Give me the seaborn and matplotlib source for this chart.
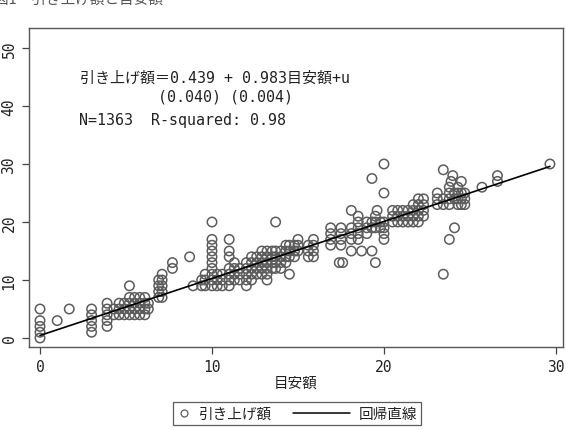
import numpy as np
import pandas as pd
import matplotlib
matplotlib.use("Agg")
import matplotlib.pyplot as plt
import seaborn as sns
from matplotlib.lines import Line2D
from matplotlib.legend_handler import HandlerLine2D

# ---------------- data ----------------
# low range of 目安額 (x) and 引き上げ額 (y)
x_low = [0, 0, 0, 0, 0, 1.0, 1.7,
         3, 3, 3, 3, 3, 3.9, 3.9, 3.9, 3.9, 3.9,
         4.3, 4.3, 4.6, 4.6, 4.6, 4.9, 4.9, 4.9,
         5.2, 5.2, 5.2, 5.2, 5.2, 5.5, 5.5, 5.5, 5.5,
         5.8, 5.8, 5.8, 5.8, 6.1, 6.1, 6.1, 6.1, 6.3, 6.3,
         6.9, 6.9, 6.9, 6.9, 7.1, 7.1, 7.1, 7.1, 7.1,
         7.7, 7.7, 8.7, 8.9]
y_low = [0, 1, 2, 3, 5, 3, 5,
         1, 2, 3, 4, 5, 2, 3, 4, 5, 6,
         4, 5, 4, 5, 6, 4, 5, 6,
         4, 5, 6, 7, 9, 4, 5, 6, 7,
         4, 5, 6, 7, 4, 5, 6, 7, 5, 6,
         7, 8, 9, 10, 7, 8, 9, 10, 11,
         12, 13, 14, 9]

# middle range
x_mid = [9.4, 9.4, 9.6, 9.6, 9.6,
         10, 10, 10, 10, 10, 10, 10, 10, 10, 10,
         10.3, 10.3, 10.3, 10.6, 10.6, 10.6,
         11.0, 11.0, 11.0, 11.0, 11.0, 11.0, 11.0,
         11.3, 11.3, 11.3, 11.3, 11.6, 11.6, 11.6,
         12.0, 12.0, 12.0, 12.0, 12.0, 12.3, 12.3, 12.3, 12.3, 12.3,
         12.6, 12.6, 12.6, 12.6, 12.9, 12.9, 12.9, 12.9, 12.9,
         13.2, 13.2, 13.2, 13.2, 13.2, 13.2, 13.5, 13.5, 13.5, 13.5,
         13.7, 13.7, 13.7, 13.7, 13.7, 14.0, 14.0, 14.0, 14.0,
         14.3, 14.3, 14.3, 14.3, 14.5, 14.5, 14.5, 14.5,
         14.8, 14.8, 14.8, 15.0, 15.0, 15.0,
         15.6, 15.6, 15.6, 15.9, 15.9, 15.9, 15.9]
y_mid = [9, 10, 9, 10, 11,
         9, 10, 11, 12, 13, 14, 15, 16, 17, 20,
         9, 10, 11, 9, 10, 11,
         9, 10, 11, 12, 14, 15, 17,
         10, 11, 12, 13, 10, 11, 12,
         9, 10, 11, 12, 13, 10, 11, 12, 13, 14,
         11, 12, 13, 14, 11, 12, 13, 14, 15,
         10, 11, 12, 13, 14, 15, 12, 13, 14, 15,
         12, 13, 14, 15, 20, 12, 13, 14, 15,
         13, 14, 15, 16, 11, 14, 15, 16,
         14, 15, 16, 15, 16, 17,
         14, 15, 16, 14, 15, 16, 17]

# high range
x_high = [16.9, 16.9, 16.9, 16.9, 17.4, 17.5, 17.5, 17.5, 17.5, 17.6,
          18.1, 18.1, 18.1, 18.1, 18.1, 18.5, 18.5, 18.5, 18.5, 18.5, 18.7,
          19.0, 19.0, 19.0, 19.3, 19.3, 19.3, 19.3,
          19.5, 19.5, 19.5, 19.5, 19.6, 19.8, 19.8,
          20.0, 20.0, 20.0, 20.0, 20.0, 20.0,
          20.5, 20.5, 20.5, 20.8, 20.8, 20.8, 21.1, 21.1, 21.1,
          21.4, 21.4, 21.4, 21.7, 21.7, 21.7, 21.7,
          22.0, 22.0, 22.0, 22.0, 22.0, 22.3, 22.3, 22.3, 22.3,
          23.1, 23.1, 23.1, 23.45, 23.45, 23.45, 23.45,
          23.8, 23.8, 23.8, 23.8, 23.8, 23.9, 24.0,
          24.1, 24.1, 24.1, 24.3, 24.3, 24.3, 24.3,
          24.5, 24.5, 24.5, 24.5, 24.7, 24.7, 24.7,
          25.7, 26.6, 26.6, 29.65]
y_high = [16, 17, 18, 19, 13, 16, 17, 18, 19, 13,
          15, 17, 18, 19, 22, 17, 18, 19, 20, 21, 15,
          18, 19, 20, 15, 19, 20, 27.5,
          13, 19, 20, 21, 22, 19, 20,
          17, 18, 19, 20, 25, 30,
          20, 21, 22, 20, 21, 22, 20, 21, 22,
          20, 21, 22, 20, 21, 22, 23,
          20, 21, 22, 23, 24, 21, 22, 23, 24,
          23, 24, 25, 11, 23, 24, 29,
          17, 23, 24, 25, 26, 27, 28,
          19, 24, 25, 23, 24, 25, 26,
          23, 24, 25, 27, 23, 24, 25,
          26, 27, 28, 30]

intercept = 0.439
slope = 0.983
equation_text = "引き上げ額＝0.439 + 0.983目安額+u"
se_text = "(0.040) (0.004)"
stats_text = "N=1363  R-squared: 0.98"
x_ticks = [0, 10, 20, 30]
y_ticks = [0, 10, 20, 30, 40, 50]
x_label = "目安額"
scatter_label = "引き上げ額"
line_label = "回帰直線"
title_text = "図1　引き上げ額と目安額"

# ---------------- figure ----------------
sns.set_style("white")
plt.rcParams["font.family"] = ["DejaVu Sans Mono", "Noto Sans CJK JP"]
mixed = ["DejaVu Sans Mono", "Noto Sans CJK JP"]
cjk = ["Noto Sans CJK JP", "DejaVu Sans"]

df = pd.DataFrame({"x": x_low + x_mid + x_high, "y": y_low + y_mid + y_high})
xr = np.array([df["x"].min(), df["x"].max()])
line_df = pd.DataFrame({"x": xr, "y": intercept + slope * xr})

W, H = 566, 431
fig = plt.figure(figsize=(W / 100, H / 100), dpi=100)
ax = fig.add_axes([29 / W, 1 - 348 / H, (563 - 29) / W, (348 - 29) / H])

marker_color = "#5c5c5c"
sns.scatterplot(data=df, x="x", y="y", ax=ax, marker="o", s=46,
                facecolors="none", edgecolor=marker_color, linewidth=1.1,
                legend=False, zorder=2)
sns.lineplot(data=line_df, x="x", y="y", ax=ax, color="black", lw=1.2,
             legend=False, zorder=3)

ax.set_xlim(-0.64, 30.41)
ax.set_ylim(-1.55, 53.45)
ax.set_xticks(x_ticks)
ax.set_yticks(y_ticks)
ax.set_xticklabels([str(t) for t in x_ticks], fontsize=10.5, family=mixed)
ax.set_yticklabels([str(t) for t in y_ticks], fontsize=10.5, family=mixed,
                   rotation=90, va="center")
ax.tick_params(axis="both", direction="out", length=5, width=0.9,
               color="#444444", labelcolor="#222222", pad=4)
ax.tick_params(axis="x", bottom=True)
ax.tick_params(axis="y", left=True)
for sp in ax.spines.values():
    sp.set_visible(True)
    sp.set_color("#555555")
    sp.set_linewidth(1.0)
ax.set_xlabel(x_label, fontsize=10.5, family=cjk, color="#222222", labelpad=1)
ax.set_ylabel("")
ax.grid(False)

# annotation
fs_ann = 10.8
ax.text(2.33, 45.0, equation_text, fontsize=fs_ann, family=mixed,
        va="center", ha="left", color="#222222")
ax.text(6.86, 41.7, se_text, fontsize=fs_ann, family=mixed,
        va="center", ha="left", color="#222222")
ax.text(2.27, 37.6, stats_text, fontsize=fs_ann, family=mixed,
        va="center", ha="left", color="#222222")

# clipped title at very top (only its lower part shows, as in the reference)
fig.text(-6 / W, 1 - 4 / H, title_text, fontsize=10.5, family=cjk,
         va="baseline", ha="left", color="#555555")


# legend
class LongLine(HandlerLine2D):
    def create_artists(self, legend, orig_handle, xdescent, ydescent,
                       width, height, fontsize, trans):
        ext = 3.0 * fontsize
        return super().create_artists(legend, orig_handle, xdescent + ext,
                                      ydescent, width + ext, height,
                                      fontsize, trans)


h_pt = Line2D([], [], ls="", marker="o", ms=5, mfc="none",
              mec=marker_color, mew=0.9)
h_ln = Line2D([], [], color="black", lw=1.1)
leg = fig.legend([h_pt, h_ln], [scatter_label, line_label],
                 loc="upper center", bbox_to_anchor=(297 / W, 1 - 396 / H),
                 ncol=2, frameon=True, fancybox=False, handlelength=0.9,
                 handletextpad=0.6, columnspacing=4.4, borderpad=0.3,
                 prop={"family": cjk, "size": 10.5},
                 handler_map={h_ln: LongLine(numpoints=1)})
leg.get_frame().set_edgecolor("#333333")
leg.get_frame().set_linewidth(0.9)
for t in leg.get_texts():
    t.set_color("#222222")

fig.savefig("out.png", dpi=100)
